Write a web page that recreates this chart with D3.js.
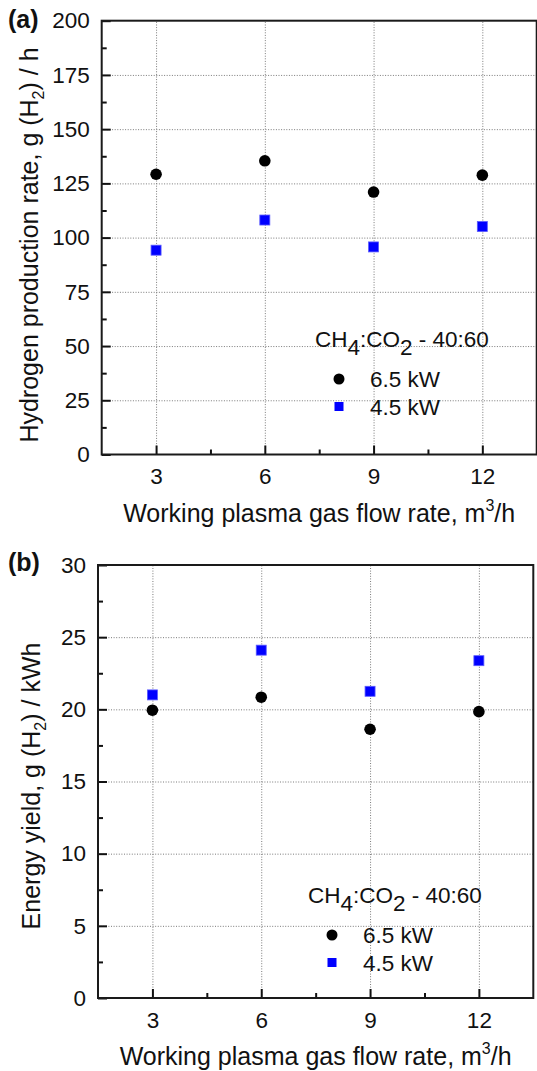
<!DOCTYPE html>
<html><head><meta charset="utf-8">
<script src="https://cdn.jsdelivr.net/npm/d3@7"></script>
<style>body{margin:0;background:#fff} text{font-family:"Liberation Sans",Arial,sans-serif;fill:#111}</style>
</head><body><svg id="c" width="537" height="1071"></svg>
<script>
// ---- data ----
const flowRates = [3, 6, 9, 12];
const xTicks = [3, 6, 9, 12];
const xMinorTicks = [4.5, 7.5, 10.5];
const seriesLabels = ["6.5 kW", "4.5 kW"];
const h2Rate65 = [129.2, 135.4, 121.0, 128.8];
const h2Rate45 = [94.2, 108.1, 95.7, 105.1];
const yieldE65 = [19.94, 20.84, 18.62, 19.84];
const yieldE45 = [21.0, 24.1, 21.25, 23.37];
const yTicksA = [0, 25, 50, 75, 100, 125, 150, 175, 200];
const yMinorA = [12.5, 37.5, 62.5, 87.5, 112.5, 137.5, 162.5, 187.5];
const yTicksB = [0, 5, 10, 15, 20, 25, 30];
const yMinorB = [2.5, 7.5, 12.5, 17.5, 22.5, 27.5];

const svg = d3.select("#c");
const FS = 22.5, TFS = 25, LFS = 22.5;

function panel(cfg) {
  const g = svg.append("g");
  const x = d3.scaleLinear().domain([1.5, 13.5]).range([cfg.left, cfg.right]);
  const y = d3.scaleLinear().domain(cfg.yDomain).range([cfg.bottom, cfg.top]);
  const W = cfg.right - cfg.left, H = cfg.bottom - cfg.top;

  // grid
  const gy = g.append("g").attr("transform", `translate(${cfg.left},0)`)
    .call(d3.axisLeft(y).tickValues(cfg.yTicks.slice(1, -1)).tickSize(-W).tickFormat(""));
  const gx = g.append("g").attr("transform", `translate(0,${cfg.bottom})`)
    .call(d3.axisBottom(x).tickValues(xTicks).tickSizeInner(-H).tickSizeOuter(0).tickFormat(""));
  [gy, gx].forEach(a => {
    a.select(".domain").remove();
    a.selectAll("line").attr("stroke", "#7a7a7a").attr("stroke-width", 1).attr("stroke-dasharray", "1,1.6");
  });

  // axes (inner ticks)
  const ay = g.append("g").attr("transform", `translate(${cfg.left},0)`)
    .call(d3.axisLeft(y).tickValues(cfg.yTicks).tickSizeInner(-9).tickSizeOuter(0).tickPadding(12));
  const ayMin = g.append("g").attr("transform", `translate(${cfg.left},0)`)
    .call(d3.axisLeft(y).tickValues(cfg.yMinor).tickSizeInner(-5).tickSizeOuter(0).tickFormat(""));
  const ax = g.append("g").attr("transform", `translate(0,${cfg.bottom})`)
    .call(d3.axisBottom(x).tickValues(xTicks).tickSizeInner(-9).tickSizeOuter(0).tickPadding(14));
  const axMin = g.append("g").attr("transform", `translate(0,${cfg.bottom})`)
    .call(d3.axisBottom(x).tickValues(xMinorTicks).tickSizeInner(-5).tickSizeOuter(0).tickFormat(""));
  [ay, ayMin, ax, axMin].forEach(a => {
    a.select(".domain").remove();
    a.selectAll("line").attr("stroke", "#111").attr("stroke-width", 2);
    a.selectAll("text").attr("font-size", FS).attr("fill", "#111")
      .style("font-family", '"Liberation Sans", Arial, sans-serif');
  });

  // frame
  g.append("rect").attr("x", cfg.left).attr("y", cfg.top).attr("width", W).attr("height", H)
    .attr("fill", "none").attr("stroke", "#1a1a1a").attr("stroke-width", 2);

  // markers
  g.selectAll(".c").data(flowRates.map((f, i) => [f, cfg.s65[i]])).join("circle")
    .attr("cx", d => x(d[0])).attr("cy", d => y(d[1])).attr("r", 5.8).attr("fill", "#000");
  g.selectAll(".s").data(flowRates.map((f, i) => [f, cfg.s45[i]])).join("rect")
    .attr("x", d => x(d[0]) - 5).attr("y", d => y(d[1]) - 5).attr("width", 10).attr("height", 10)
    .attr("fill", "#0000ff").attr("stroke", "#5a5aff").attr("stroke-width", 0.8);

  // panel label
  g.append("text").attr("x", 8).attr("y", cfg.labelY).attr("font-size", TFS).attr("font-weight", "bold").text(cfg.label);

  // y title
  const yt = g.append("text").attr("font-size", TFS).attr("text-anchor", "middle")
    .attr("transform", `translate(${cfg.yTitleX},${cfg.yTitleY}) rotate(-90)`);
  yt.append("tspan").text(cfg.yTitle[0] + " g (H");
  yt.append("tspan").attr("font-size", 16).attr("dy", 6).text("2");
  yt.append("tspan").attr("dy", -6).text(") / " + cfg.yTitle[1]);

  // x title
  const xt = g.append("text").attr("font-size", TFS).attr("text-anchor", "middle")
    .attr("x", (cfg.left + cfg.right) / 2).attr("y", cfg.bottom + 67);
  xt.append("tspan").text("Working plasma gas flow rate, m");
  xt.append("tspan").attr("font-size", 16).attr("dy", -11).text("3");
  xt.append("tspan").attr("dy", 11).text("/h");

  // legend
  const lg = g.append("g");
  const lt = lg.append("text").attr("font-size", LFS).attr("x", cfg.legX).attr("y", cfg.legY);
  lt.append("tspan").text("CH");
  lt.append("tspan").attr("dy", 8).text("4");
  lt.append("tspan").attr("dy", -8).text(":CO");
  lt.append("tspan").attr("dy", 8).text("2");
  lt.append("tspan").attr("dy", -8).text(" - 40:60");
  lg.append("circle").attr("cx", cfg.legX + 24).attr("cy", cfg.legY + 32).attr("r", 5.5).attr("fill", "#000");
  lg.append("rect").attr("x", cfg.legX + 19.5).attr("y", cfg.legY + 55).attr("width", 9).attr("height", 9).attr("fill", "#0000ff");
  lg.append("text").attr("font-size", LFS).attr("x", cfg.legX + 55).attr("y", cfg.legY + 40).text(seriesLabels[0]);
  lg.append("text").attr("font-size", LFS).attr("x", cfg.legX + 55).attr("y", cfg.legY + 67.5).text(seriesLabels[1]);
}

panel({left: 101.7, right: 536.7, top: 20.7, bottom: 454.5, yDomain: [0, 200],
  yTicks: yTicksA, yMinor: yMinorA, s65: h2Rate65, s45: h2Rate45,
  label: "(a)", labelY: 28, yTitle: ["Hydrogen production rate,", "h"], yTitleX: 38, yTitleY: 245,
  legX: 315, legY: 347});
panel({left: 98, right: 533.3, top: 565, bottom: 998, yDomain: [0, 30],
  yTicks: yTicksB, yMinor: yMinorB, s65: yieldE65, s45: yieldE45,
  label: "(b)", labelY: 571, yTitle: ["Energy yield,", "kWh"], yTitleX: 40, yTitleY: 786,
  legX: 308, legY: 903});
</script></body></html>
